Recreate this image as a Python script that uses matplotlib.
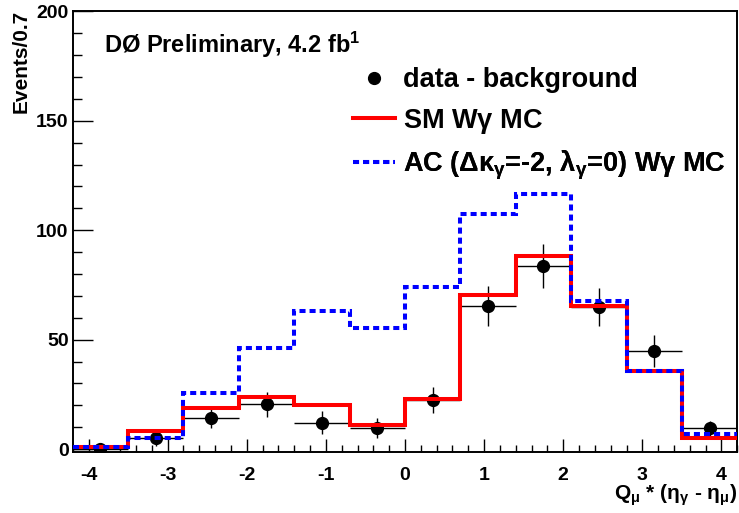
import numpy as np
import matplotlib
matplotlib.use("Agg")
import matplotlib.pyplot as plt
from matplotlib.ticker import MultipleLocator
from matplotlib.lines import Line2D

plt.rcParams['font.family'] = ['Liberation Sans', 'DejaVu Sans']
plt.rcParams['font.weight'] = 'bold'
plt.rcParams['mathtext.fontset'] = 'custom'
plt.rcParams['mathtext.default'] = 'regular'
plt.rcParams['axes.unicode_minus'] = False

# bin edges of Q_mu * (eta_gamma - eta_mu), width 0.7
edges = [-4.2, -3.5, -2.8, -2.1, -1.4, -0.7, 0.0, 0.7, 1.4, 2.1, 2.8, 3.5, 4.2]

# SM W gamma MC
sm_mc = [1.0, 8.2, 18.8, 23.6, 20.0, 11.0, 23.0, 70.6, 88.3, 65.3, 35.6, 5.2]
# AC (dk=-2, l=0) W gamma MC
ac_mc = [1.0, 5.2, 25.4, 46.3, 63.0, 55.1, 74.1, 107.6, 116.4, 67.7, 35.6, 6.8]
# data - background
data = [0.0, 5.2, 14.0, 20.4, 12.0, 9.7, 22.4, 65.4, 83.7, 65.0, 44.7, 9.4]
data_err = [1.0, 4.0, 4.2, 5.9, 5.3, 4.7, 6.0, 9.0, 10.0, 8.7, 7.4, 3.3]

edges = np.array(edges)
centers = 0.5 * (edges[:-1] + edges[1:])
half_w = 0.5 * np.diff(edges)

fig = plt.figure(figsize=(7.39, 5.13), dpi=100)
ax = fig.add_axes([0.0984, 0.1195, 0.8993, 0.8597])

ax.errorbar(centers, data, xerr=half_w, yerr=data_err, fmt='o', color='black',
            ms=8.5, elinewidth=1.0, capsize=0, zorder=2)
ax.stairs(sm_mc, edges, baseline=None, color='#ff0000', lw=2.9, zorder=3)
ax.stairs(ac_mc, edges, baseline=None, color='#0000ff', lw=2.9,
          linestyle=(0, (1.5, 1.0)), zorder=4)

ax.set_xlim(-4.2, 4.2)
ax.set_ylim(-1.2, 200.3)

ax.xaxis.set_major_locator(MultipleLocator(1))
ax.xaxis.set_minor_locator(MultipleLocator(0.2))
ax.yaxis.set_major_locator(MultipleLocator(50))
ax.yaxis.set_minor_locator(MultipleLocator(10))
ax.tick_params(axis='both', which='both', direction='in', top=False, right=False,
               labelsize=14, width=1.0)
ax.tick_params(axis='x', which='major', length=9.5, pad=11)
ax.tick_params(axis='x', which='minor', length=5)
ax.tick_params(axis='y', which='major', length=14.4, pad=3)
ax.tick_params(axis='y', which='minor', length=6.5)
for lab in ax.get_xticklabels() + ax.get_yticklabels():
    lab.set_fontweight('bold')
for sp in ax.spines.values():
    sp.set_linewidth(1.4)

fig.text(21 / 739, 0.98, 'Events/0.7', rotation=90, ha='center', va='top',
         fontsize=15, fontweight='bold')
fig.text(0.997, 1 - 500 / 513, r'Q$_{\mu}$ * ($\eta_{\gamma}$ - $\eta_{\mu}$)',
         ha='right', va='baseline', fontsize=15, fontweight='bold')
fig.text(104 / 739, 1 - 53 / 513, r'DØ Preliminary, 4.2 fb$^{1}$',
         ha='left', va='baseline', fontsize=17, fontweight='bold')

# legend: one entry per row so the row spacing matches the reference
handles = [
    Line2D([], [], ls='none', marker='o', color='black', ms=8.5),
    Line2D([], [], color='#ff0000', lw=2.9),
    Line2D([], [], color='#0000ff', lw=2.9, linestyle=(0, (1.5, 1.0))),
]
labels = ['data - background', r'SM W$\gamma$ MC',
          r'AC ($\Delta\kappa_{\gamma}$=-2, $\lambda_{\gamma}$=0) W$\gamma$ MC']
row_y = [80, 121, 165]
for h, lab, yy in zip(handles, labels, row_y):
    leg = ax.legend([h], [lab], loc='center left',
                    bbox_to_anchor=(353 / 739, 1 - yy / 513),
                    bbox_transform=fig.transFigure, frameon=False,
                    handlelength=1.55, handletextpad=0.3,
                    borderpad=0, borderaxespad=0,
                    prop={'weight': 'bold', 'size': 19.5})
    ax.add_artist(leg)

fig.savefig('out.png', dpi=100)
